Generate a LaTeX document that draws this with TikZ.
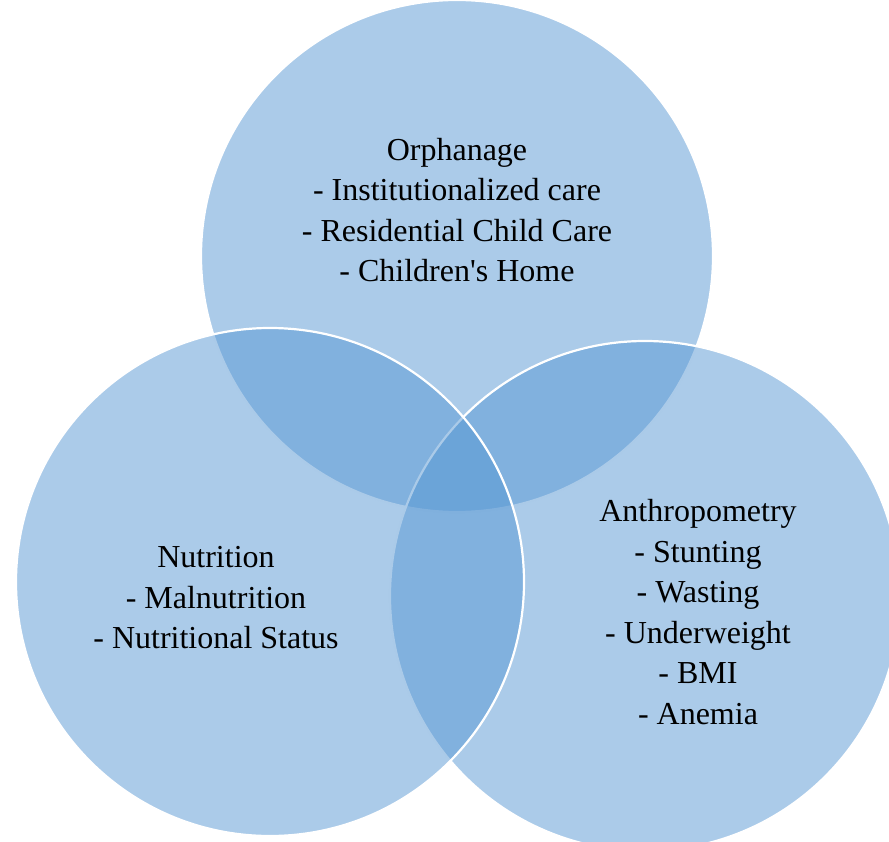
\documentclass[tikz,border=0pt]{standalone}
\usepackage{fontspec}
\setmainfont{Liberation Serif}[Ligatures=TeXReset]
\definecolor{vennblue}{RGB}{87,151,211}
\tikzset{
  venn/.style={fill=vennblue, fill opacity=0.5, draw=white, line width=2.2pt},
  label/.style={align=center, text=black, font=\fontsize{32}{40.5}\selectfont, inner sep=0pt}
}
\begin{document}
\begin{tikzpicture}[x=1pt,y=-1pt]
\useasboundingbox (0,0) rectangle (889,842);
\begin{scope}
\clip (0,0) rectangle (889,842);
\path[venn] (457,256) circle (256);
\path[venn] (645,596) circle (255);
\path[venn] (270,582) circle (254);
\end{scope}
\node[label] (orph) at (457,210) {Orphanage\\- Institutionalized care\\- Residential Child Care\\- Children's Home};
\node[label] (nutr) at (216,598) {Nutrition\\- Malnutrition\\- Nutritional Status};
\node[label] (anth) at (698,612) {Anthropometry\\- Stunting\\- Wasting\\- Underweight\\- BMI\\- Anemia};
\end{tikzpicture}
\end{document}
